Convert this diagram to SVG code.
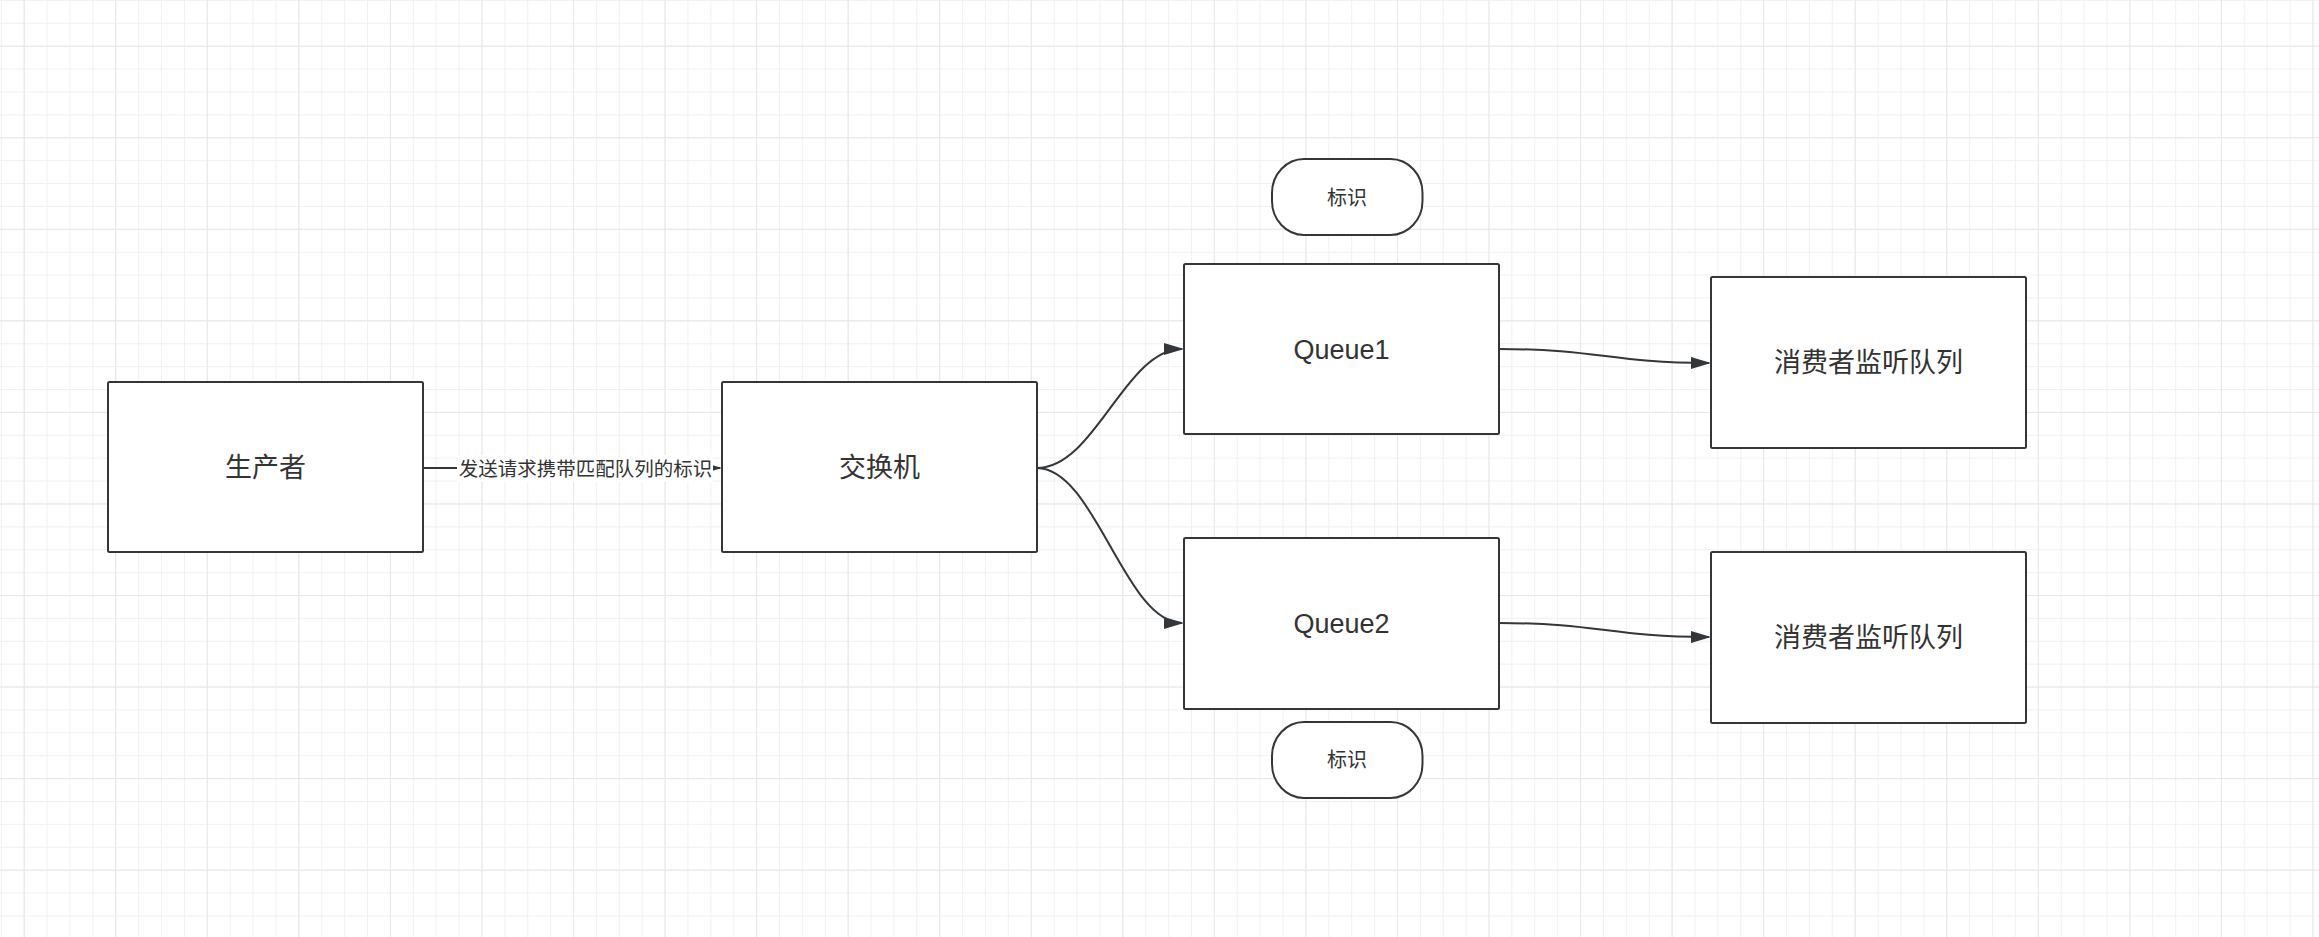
<svg xmlns="http://www.w3.org/2000/svg" width="2319" height="937" viewBox="0 0 2319 937">
<style>
.box{fill:#ffffff;stroke:#33373a;stroke-width:2}
.lbl{font-family:"Liberation Sans","Noto Sans CJK SC",sans-serif;font-size:27px;fill:#333333;text-anchor:middle;dominant-baseline:central}
.sm{font-family:"Liberation Sans","Noto Sans CJK SC",sans-serif;font-size:20px;fill:#333333;text-anchor:middle;dominant-baseline:central}
.edge{fill:none;stroke:#33373a;stroke-width:2}
</style>
<defs>
<pattern id="minor" patternUnits="userSpaceOnUse" x="23.7" y="45.7" width="22.8875" height="22.8875">
<path d="M0,0 H22.8875 M0,0 V22.8875" stroke="#f1f1f1" stroke-width="2" fill="none"/>
</pattern>
<pattern id="major" patternUnits="userSpaceOnUse" x="23.7" y="45.7" width="91.55" height="91.55">
<path d="M0,0 H91.55 M0,0 V91.55" stroke="#e7e7e7" stroke-width="2" fill="none"/>
</pattern>
<marker id="arr" markerUnits="userSpaceOnUse" markerWidth="20" markerHeight="12" refX="18" refY="6" orient="auto">
<path d="M0,0 L20,6 L0,12 z" fill="#33373a"/>
</marker>
</defs>
<rect width="2319" height="937" fill="#ffffff"/>
<rect width="2319" height="937" fill="url(#minor)"/>
<rect width="2319" height="937" fill="url(#major)"/>

<g id="connectors">
<path class="edge" d="M423,468 L720,468" marker-end="url(#arr)"/>
<rect x="457" y="455" width="256" height="27" fill="#ffffff"/>
<text class="sm" x="585.5" y="469" style="font-size:19.5px">发送请求携带匹配队列的标识</text>
<path class="edge" d="M1037,468 C1095,468 1125,349 1182,349" marker-end="url(#arr)"/>
<path class="edge" d="M1037,468 C1095,468 1125,623 1182,623" marker-end="url(#arr)"/>
<path class="edge" d="M1499,349 C1600,349 1610,363 1709,363" marker-end="url(#arr)"/>
<path class="edge" d="M1499,623 C1600,623 1610,637 1709,637" marker-end="url(#arr)"/>
</g>

<g id="producer">
<rect class="box" x="108" y="382" width="315" height="170" rx="1.5"/>
<text class="lbl" x="265.5" y="468">生产者</text>
</g>
<g id="exchange">
<rect class="box" x="722" y="382" width="315" height="170" rx="1.5"/>
<text class="lbl" x="879.5" y="468">交换机</text>
</g>
<g id="queue1">
<rect class="box" x="1184" y="264" width="315" height="170" rx="1.5"/>
<text class="lbl" x="1341.5" y="350">Queue1</text>
</g>
<g id="queue2">
<rect class="box" x="1184" y="538" width="315" height="171" rx="1.5"/>
<text class="lbl" x="1341.5" y="624">Queue2</text>
</g>
<g id="tag1">
<rect class="box" x="1272" y="159" width="150.5" height="76" rx="32" ry="34"/>
<text class="sm" x="1347" y="198">标识</text>
</g>
<g id="tag2">
<rect class="box" x="1272" y="722" width="150.5" height="76" rx="32" ry="34"/>
<text class="sm" x="1347" y="760">标识</text>
</g>
<g id="consumer1">
<rect class="box" x="1711" y="277" width="315" height="171" rx="1.5"/>
<text class="lbl" x="1868.5" y="362.5">消费者监听队列</text>
</g>
<g id="consumer2">
<rect class="box" x="1711" y="552" width="315" height="171" rx="1.5"/>
<text class="lbl" x="1868.5" y="637.5">消费者监听队列</text>
</g>
</svg>
